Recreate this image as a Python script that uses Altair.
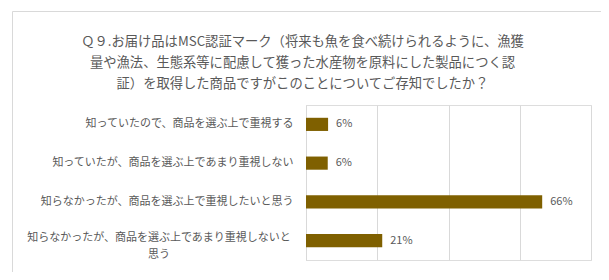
import altair as alt
import pandas as pd

categories = [
    "知っていたので、商品を選ぶ上で重視する",
    "知っていたが、商品を選ぶ上であまり重視しない",
    "知らなかったが、商品を選ぶ上で重視したいと思う",
    "知らなかったが、商品を選ぶ上であまり重視しないと思う",
]
values = [6.2, 6.1, 66.3, 21.4]
value_labels = ["6%", "6%", "66%", "21%"]
wrapped_label = ["知らなかったが、商品を選ぶ上であまり重視しないと", "思う"]
title_lines = [
    "Ｑ９.お届け品はMSC認証マーク（将来も魚を食べ続けられるように、漁獲",
    "量や漁法、生態系等に配慮して獲った水産物を原料にした製品につく認",
    "証）を取得した商品ですがこのことについてご存知でしたか？",
]
x_ticks = [0, 20, 40, 60, 80]

FONT = "Noto Sans CJK JP"
GREY = "#595959"
BAR = "#7f6000"

df = pd.DataFrame({"category": categories, "value": values, "label": value_labels})
wrap_df = pd.DataFrame({"category": [categories[3]]})

yscale = alt.Scale(domain=categories, paddingInner=0.66, paddingOuter=0.33)
xscale = alt.Scale(domain=[0, 80])

base = alt.Chart(df)

frame = alt.Chart(pd.DataFrame({"a": [0]})).mark_rect(
    fillOpacity=0, stroke="#d9d9d9", strokeWidth=1
).encode(
    x=alt.value(-293.5), x2=alt.value(320), y=alt.value(-93.5), y2=alt.value(190)
)

bars = base.mark_bar(color=BAR).encode(
    x=alt.X("value:Q", scale=xscale,
            axis=alt.Axis(values=x_ticks, labels=False, ticks=False, domain=False,
                          grid=True, gridColor="#d9d9d9", title=None)),
    y=alt.Y("category:N", scale=yscale, sort=categories,
            axis=alt.Axis(title=None, ticks=False, domainColor="#d9d9d9",
                          labelPadding=13, labelFontSize=11, labelColor=GREY,
                          labelFont=FONT, labelLimit=500,
                          labelExpr="datum.value == '" + categories[3] + "' ? '' : datum.value")),
)

texts = base.mark_text(align="left", baseline="middle", dx=8, fontSize=11,
                       color=GREY, font=FONT).encode(
    x=alt.X("value:Q", scale=xscale),
    y=alt.Y("category:N", scale=yscale, sort=categories),
    text="label:N",
)

wrap = alt.Chart(wrap_df).mark_text(align="center", baseline="middle", dx=-147, dy=-3,
                                    lineHeight=17, fontSize=11, color=GREY, font=FONT).encode(
    x=alt.value(0),
    y=alt.Y("category:N", scale=yscale, sort=categories),
    text=alt.value(wrapped_label),
)

chart = alt.layer(frame, bars, texts, wrap).properties(
    width=285,
    height=155,
    title=alt.TitleParams(text=title_lines, anchor="middle", dx=-146, fontSize=13.3,
                          font=FONT, color=GREY, fontWeight="normal", lineHeight=21,
                          offset=-79),
    autosize=alt.AutoSizeParams(type="none"),
    padding={"left": 298, "top": 97, "right": 10, "bottom": 12},
).configure_view(stroke=None).configure(background="white")

chart.save("out.html", embed_options={"renderer": "svg", "actions": False})
